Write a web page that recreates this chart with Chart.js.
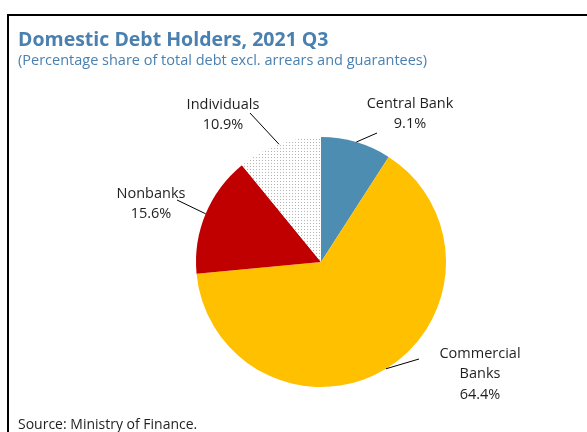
<!DOCTYPE html>
<html>
<head>
<meta charset="utf-8">
<script src="https://cdn.jsdelivr.net/npm/chart.js@4.4.0/dist/chart.umd.min.js"></script>
<style>
  html, body { margin: 0; padding: 0; background: #fff; }
  #wrap { width: 587px; height: 432px; position: relative; }
</style>
</head>
<body>
<div id="wrap"><canvas id="debtPie" width="587" height="432"></canvas></div>
<script>
// Data
const categories = ['Central Bank', 'Commercial Banks', 'Nonbanks', 'Individuals'];
const labelLines = [['Central Bank'], ['Commercial', 'Banks'], ['Nonbanks'], ['Individuals']];
const shares = [9.1, 64.4, 15.6, 10.9];

const titleText = 'Domestic Debt Holders, 2021 Q3';
const subtitleText = '(Percentage share of total debt excl. arrears and guarantees)';
const sourceText = 'Source: Ministry of Finance.';

// Styling
const Theme = {
    title: '#4a80b0',
    text: '#1f1f1f',
    font: '"Open Sans", Lato, sans-serif',
    centralBank: '#4e8db2',
    commercial: '#ffc000',
    nonbanks: '#c00000'
};

// label placement relative to pie centre: text centre and leader line end
const labelPlacement = [
    { tx: 89, ty: -148, lx: 56, ly: -129 },
    { tx: 159, ty: 112, lx: 98, ly: 97 },
    { tx: -170, ty: -58, lx: -144, ly: -62 },
    { tx: -98, ty: -147, lx: -71, ly: -149 }
];

function dotPattern() {
    const c = document.createElement('canvas');
    c.width = 3; c.height = 3;
    const g = c.getContext('2d');
    g.fillStyle = '#ffffff';
    g.fillRect(0, 0, 3, 3);
    g.fillStyle = '#b4b4b4';
    g.fillRect(1, 1, 1, 1);
    return g.createPattern(c, 'repeat');
}

const decorPlugin = {
    id: 'decor',
    afterDraw(chart) {
        const ctx = chart.ctx;
        ctx.save();

        // frame
        ctx.strokeStyle = '#000';
        ctx.lineWidth = 2;
        ctx.beginPath();
        ctx.moveTo(8, 432);
        ctx.lineTo(8, 15);
        ctx.lineTo(587, 15);
        ctx.stroke();

        // titles
        ctx.textAlign = 'left';
        ctx.textBaseline = 'alphabetic';
        ctx.fillStyle = Theme.title;
        ctx.font = 'bold 19.5px ' + Theme.font;
        ctx.fillText(titleText, 18, 46);
        ctx.font = '14.5px ' + Theme.font;
        ctx.fillText(subtitleText, 18, 65);

        ctx.fillStyle = Theme.text;
        ctx.font = '14px ' + Theme.font;
        ctx.fillText(sourceText, 18, 429);

        // slice labels with leader lines
        const meta = chart.getDatasetMeta(0);
        meta.data.forEach((arc, i) => {
            const p = labelPlacement[i];
            const mid = (arc.startAngle + arc.endAngle) / 2;
            const sx = arc.x + Math.cos(mid) * arc.outerRadius;
            const sy = arc.y + Math.sin(mid) * arc.outerRadius;
            ctx.strokeStyle = '#000';
            ctx.lineWidth = 1;
            ctx.beginPath();
            ctx.moveTo(sx, sy);
            ctx.lineTo(arc.x + p.lx, arc.y + p.ly);
            ctx.stroke();

            const lines = labelLines[i].concat([shares[i].toFixed(1) + '%']);
            const lh = 20.5;
            const top = arc.y + p.ty - (lines.length - 1) * lh / 2;
            ctx.fillStyle = Theme.text;
            ctx.font = '14.5px ' + Theme.font;
            ctx.textAlign = 'center';
            ctx.textBaseline = 'middle';
            lines.forEach((t, k) => ctx.fillText(t, arc.x + p.tx, top + k * lh));
        });
        ctx.restore();
    }
};

new Chart(document.getElementById('debtPie'), {
    type: 'pie',
    data: {
        labels: categories,
        datasets: [{
            data: shares,
            backgroundColor: [Theme.centralBank, Theme.commercial, Theme.nonbanks, dotPattern()],
            borderWidth: 0
        }]
    },
    options: {
        responsive: false,
        animation: false,
        layout: { padding: { left: 196, right: 141, top: 137, bottom: 45 } },
        plugins: {
            legend: { display: false },
            tooltip: { enabled: false }
        }
    },
    plugins: [decorPlugin]
});
</script>
</body>
</html>
